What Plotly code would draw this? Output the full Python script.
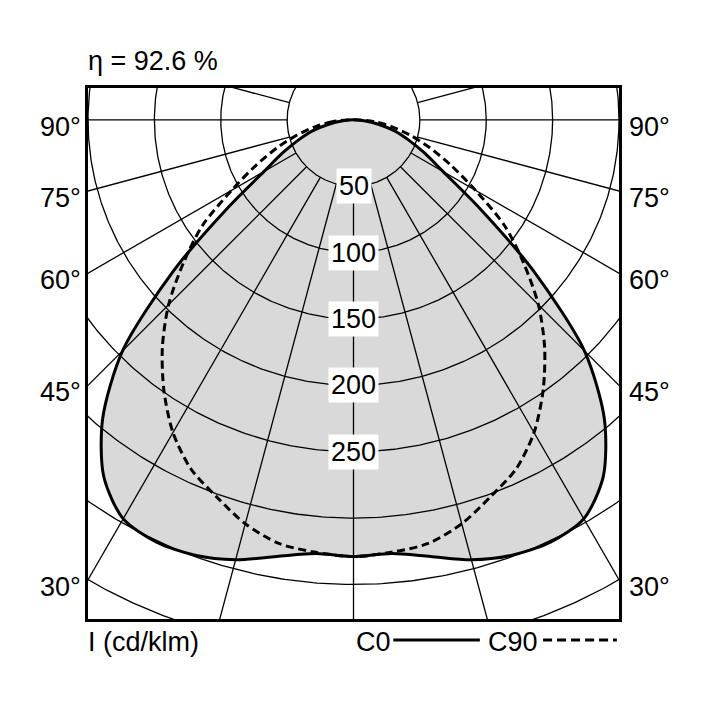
import numpy as np
import plotly.graph_objects as go

# ---- data, cd/klm ----
gamma_deg = [0, 5, 10, 15, 20, 25, 30, 35, 40, 45, 50, 55, 60, 65, 70, 75, 80, 85, 90]
c0_values = [329, 328, 334, 343, 349, 351, 347, 328, 294, 246, 177, 116, 78, 59, 44, 32, 19, 9, 0]
c90_values = [329, 327, 324, 315, 302, 290, 272, 249, 224, 197, 167, 139, 106, 81, 61, 44, 29, 16, 0]

ring_values = [50, 100, 150, 200, 250, 300, 350, 400, 450]
ring_labels = ["50", "100", "150", "200", "250"]
angle_labels = [90, 75, 60, 45, 30]
radial_step = 15
efficiency_text = "η = 92.6 %"
unit_text = "I (cd/klm)"

FONT = "'Liberation Sans', Arial, sans-serif"
FS = 27
GREY = "#d9d9d9"
XR = [-200, 200]
YR = [-376, 24]


def full_curve(gam, vals):
    g = [-a for a in gam[::-1]] + gam[1:]
    r = vals[::-1] + vals[1:]
    g = np.radians(np.array(g, dtype=float))
    r = np.array(r, dtype=float)
    return r * np.sin(g), -r * np.cos(g)


x0, y0 = full_curve(gamma_deg, c0_values)
x90, y90 = full_curve(gamma_deg, c90_values)

fig = go.Figure()

# grey filled area of C0
fig.add_trace(go.Scatter(x=x0, y=y0, mode="lines", fill="toself", fillcolor=GREY,
                         line=dict(width=0, shape="spline", smoothing=0.8),
                         hoverinfo="skip", showlegend=False))

# grid circles
t = np.linspace(0, 2 * np.pi, 721)
gx, gy = [], []
for rv in ring_values:
    gx += list(rv * np.cos(t)) + [None]
    gy += list(rv * np.sin(t)) + [None]
# radial lines starting at the first ring
for k in range(0, 360, radial_step):
    a = np.radians(k)
    gx += [ring_values[0] * np.sin(a), 700 * np.sin(a), None]
    gy += [-ring_values[0] * np.cos(a), -700 * np.cos(a), None]
fig.add_trace(go.Scatter(x=gx, y=gy, mode="lines", line=dict(color="black", width=1.3),
                         hoverinfo="skip", showlegend=False))

# curves
fig.add_trace(go.Scatter(x=x0, y=y0, mode="lines",
                         line=dict(color="black", width=3, shape="spline", smoothing=0.8),
                         hoverinfo="skip", showlegend=False, name="C0"))
fig.add_trace(go.Scatter(x=x90, y=y90, mode="lines",
                         line=dict(color="black", width=3, dash="8px,4.5px", shape="spline", smoothing=0.8),
                         hoverinfo="skip", showlegend=False, name="C90"))

tf = dict(family=FONT, size=FS, color="black")
ann = []
# ring value labels on the nadir axis
for lab in ring_labels:
    ann.append(dict(x=0, y=-float(lab), xref="x", yref="y", text=lab, showarrow=False,
                    bgcolor="white", borderpad=2, font=tf))
# angle labels where radial lines meet the frame
for ang in angle_labels:
    yy = -XR[1] / np.tan(np.radians(ang)) if ang != 90 else 0.0
    ann.append(dict(x=0, y=yy, xref="paper", yref="y", text=f"{ang}°", showarrow=False,
                    xanchor="right", xshift=-5, yshift=-7, font=tf))
    ann.append(dict(x=1, y=yy, xref="paper", yref="y", text=f"{ang}°", showarrow=False,
                    xanchor="left", xshift=8, yshift=-7, font=tf))
ann.append(dict(x=0, y=1.05, xref="paper", yref="paper", text=efficiency_text, showarrow=False,
                xanchor="left", yanchor="middle", xshift=-2, font=tf))
ann.append(dict(x=0, y=-0.044, xref="paper", yref="paper", text=unit_text, showarrow=False,
                xanchor="left", yanchor="middle", xshift=-2, font=tf))
ann.append(dict(x=0.5047, y=-0.044, xref="paper", yref="paper", text="C0", showarrow=False,
                xanchor="left", yanchor="middle", xshift=-2, font=tf))
ann.append(dict(x=0.7538, y=-0.044, xref="paper", yref="paper", text="C90", showarrow=False,
                xanchor="left", yanchor="middle", xshift=-2, font=tf))

shapes = [
    dict(type="line", xref="paper", yref="paper", x0=0.575, x1=0.738, y0=-0.0395, y1=-0.0395,
         line=dict(color="black", width=3)),
    dict(type="line", xref="paper", yref="paper", x0=0.857, x1=0.996, y0=-0.0395, y1=-0.0395,
         line=dict(color="black", width=3, dash="9px,5px")),
]

# the page body adds an 8 px margin, so the figure is 700 px and shifted margins
fig.update_layout(
    width=700, height=700,
    margin=dict(l=80, r=89, t=80, b=89),
    paper_bgcolor="white", plot_bgcolor="white",
    annotations=ann, shapes=shapes, showlegend=False,
    xaxis=dict(range=XR, showgrid=False, zeroline=False, showticklabels=False, ticks="",
               showline=True, mirror=True, linecolor="black", linewidth=2.5, fixedrange=True),
    yaxis=dict(range=YR, showgrid=False, zeroline=False, showticklabels=False, ticks="",
               showline=True, mirror=True, linecolor="black", linewidth=2.5, fixedrange=True),
)

fig.write_html("out.html")
